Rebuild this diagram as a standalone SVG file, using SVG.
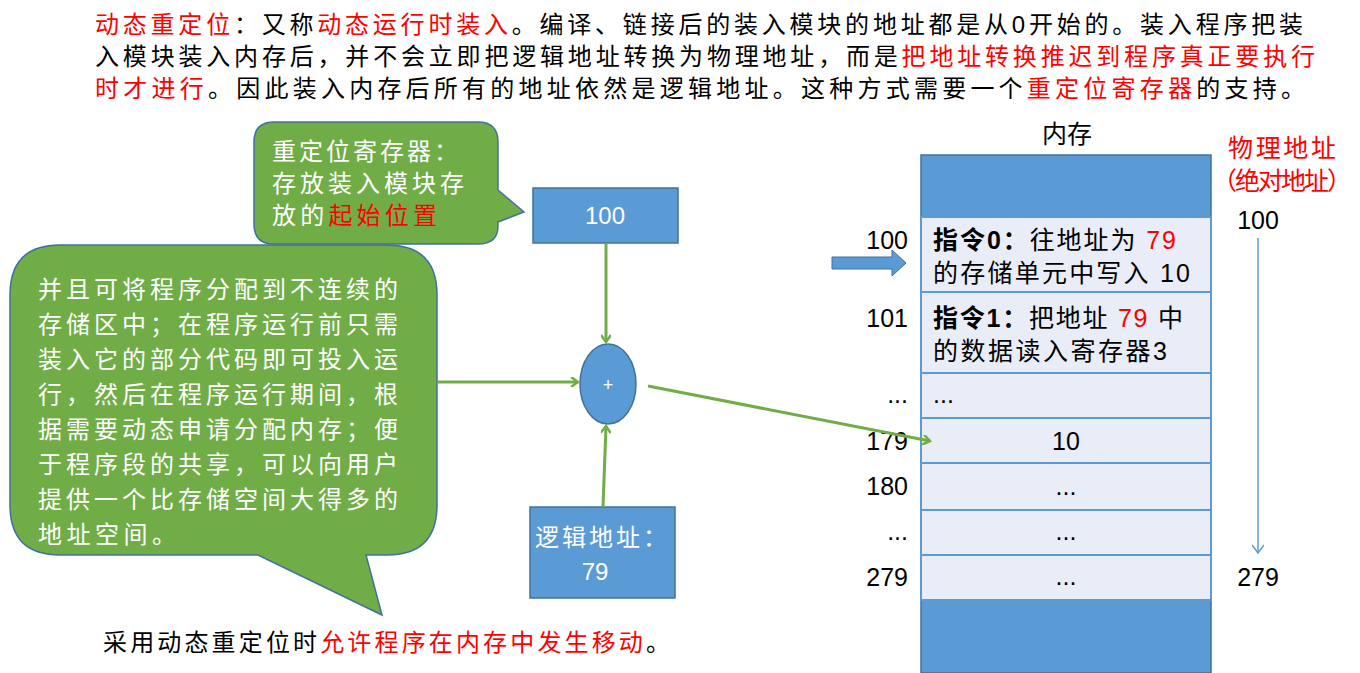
<svg xmlns="http://www.w3.org/2000/svg" width="1360" height="673" viewBox="0 0 1360 673">
<defs>
<style>
text{font-family:"Liberation Sans","Noto Sans CJK SC",sans-serif;fill:#000}
.t{font-size:24px}
.m{font-size:25px}
.r{fill:#ff0000}
.w{fill:#fff}
.bub{fill:#70ad47;stroke:#41719c;stroke-width:1.5}
.box{fill:#5b9bd5;stroke:#41719c;stroke-width:1.5}
.row{fill:#e9edf7;stroke:#5b9bd5;stroke-width:2}
.g{stroke:#70ad47;stroke-width:3;fill:none}
</style>
<marker id="ga" markerWidth="10" markerHeight="10" refX="8" refY="5" orient="auto" markerUnits="userSpaceOnUse"><path d="M1,0 L8,5 L1,10" fill="none" stroke="#70ad47" stroke-width="2.5"/></marker>
<marker id="ba" markerWidth="12" markerHeight="12" refX="9" refY="6" orient="auto" markerUnits="userSpaceOnUse"><path d="M1,0 L9,6 L1,12" fill="none" stroke="#5b9bd5" stroke-width="1.5"/></marker>
</defs>
<rect width="1360" height="673" fill="#fff"/>
<g id="title" class="t">
<text x="95" y="33" textLength="1208" lengthAdjust="spacing"><tspan class="r">动态重定位</tspan>：又称<tspan class="r">动态运行时装入</tspan>。编译、链接后的装入模块的地址都是从0开始的。装入程序把装</text>
<text x="95" y="65" textLength="1220" lengthAdjust="spacing">入模块装入内存后，并不会立即把逻辑地址转换为物理地址，而是<tspan class="r">把地址转换推迟到程序真正要执行</tspan></text>
<text x="95" y="97" textLength="1210" lengthAdjust="spacing"><tspan class="r">时才进行</tspan>。因此装入内存后所有的地址依然是逻辑地址。这种方式需要一个<tspan class="r">重定位寄存器</tspan>的支持。</text>
</g>
<g id="bubble-reg">
<path class="bub" d="M274,122 H478 Q498,122 498,142 V190 L524,212 L498,222 V226 Q498,244 478,244 H274 Q254,244 254,224 V142 Q254,122 274,122 Z"/>
<text class="t w" x="272" y="160" textLength="186" lengthAdjust="spacing">重定位寄存器：</text>
<text class="t w" x="272" y="192" textLength="192" lengthAdjust="spacing">存放装入模块存</text>
<text class="t w" x="272" y="224" textLength="165" lengthAdjust="spacing">放的<tspan class="r">起始位置</tspan></text>
</g>
<g id="bubble-main">
<path class="bub" d="M60,245 H387 Q437,245 437,295 V505 Q437,555 387,555 H366 L382,615 L258,555 H60 Q10,555 10,505 V295 Q10,245 60,245 Z"/>
<g class="t">
<text class="w" x="38" y="298" textLength="360" lengthAdjust="spacing">并且可将程序分配到不连续的</text>
<text class="w" x="38" y="333" textLength="360" lengthAdjust="spacing">存储区中；在程序运行前只需</text>
<text class="w" x="38" y="368" textLength="360" lengthAdjust="spacing">装入它的部分代码即可投入运</text>
<text class="w" x="38" y="403" textLength="360" lengthAdjust="spacing">行，然后在程序运行期间，根</text>
<text class="w" x="38" y="438" textLength="360" lengthAdjust="spacing">据需要动态申请分配内存；便</text>
<text class="w" x="38" y="473" textLength="360" lengthAdjust="spacing">于程序段的共享，可以向用户</text>
<text class="w" x="38" y="508" textLength="360" lengthAdjust="spacing">提供一个比存储空间大得多的</text>
<text class="w" x="38" y="543" textLength="138" lengthAdjust="spacing">地址空间。</text>
</g>
</g>
<g id="reg100"><rect class="box" x="533" y="188" width="145" height="55"/><text class="t w" x="605" y="224" text-anchor="middle">100</text></g>
<g id="adder"><ellipse class="box" cx="608" cy="384" rx="28" ry="40"/><text class="w" x="608" y="391" font-size="18" text-anchor="middle">+</text></g>
<g id="logical"><rect class="box" x="530" y="507" width="145" height="91"/><text class="t w" x="601" y="546" text-anchor="middle" textLength="132" lengthAdjust="spacing">逻辑地址：</text><text class="t w" x="595" y="580" text-anchor="middle">79</text></g>
<g id="memory">
<text class="m" x="1067" y="143" text-anchor="middle">内存</text>
<rect class="box" x="921" y="155" width="290" height="518"/>
<rect class="row" x="921" y="217" width="290" height="75"/>
<rect class="row" x="921" y="292" width="290" height="81"/>
<rect class="row" x="921" y="373" width="290" height="45"/>
<rect class="row" x="921" y="418" width="290" height="45"/>
<rect class="row" x="921" y="463" width="290" height="47"/>
<rect class="row" x="921" y="510" width="290" height="45"/>
<rect class="row" x="921" y="555" width="290" height="45"/>
<g class="m">
<text x="933" y="249" textLength="243" lengthAdjust="spacing"><tspan font-weight="bold">指令0：</tspan>往地址为 <tspan class="r">79</tspan></text>
<text x="933" y="282" textLength="257" lengthAdjust="spacing">的存储单元中写入 10</text>
<text x="933" y="327" textLength="250" lengthAdjust="spacing"><tspan font-weight="bold">指令1：</tspan>把地址 <tspan class="r">79</tspan> 中</text>
<text x="933" y="360" textLength="234" lengthAdjust="spacing">的数据读入寄存器3</text>
<text x="933" y="403">...</text>
<text x="1066" y="450" text-anchor="middle">10</text>
<text x="1066" y="495" text-anchor="middle">...</text>
<text x="1066" y="540" text-anchor="middle">...</text>
<text x="1066" y="585" text-anchor="middle">...</text>
<text x="908" y="249" text-anchor="end">100</text>
<text x="908" y="327" text-anchor="end">101</text>
<text x="908" y="403" text-anchor="end">...</text>
<text x="908" y="450" text-anchor="end">179</text>
<text x="908" y="495" text-anchor="end">180</text>
<text x="908" y="540" text-anchor="end">...</text>
<text x="908" y="586" text-anchor="end">279</text>
</g>
<path d="M832,257 H892 V250 L906,263 L892,276 V269 H832 Z" fill="#5b9bd5" stroke="#41719c"/>
</g>
<g id="physical" class="m">
<text class="r" x="1282" y="157" text-anchor="middle" textLength="108" lengthAdjust="spacing">物理地址</text>
<text class="r" x="1282" y="190" text-anchor="middle" textLength="140" lengthAdjust="spacing">（绝对地址）</text>
<text x="1258" y="229" text-anchor="middle">100</text>
<text x="1258" y="586" text-anchor="middle">279</text>
</g>
<g id="connectors">
<line class="g" x1="606" y1="243" x2="606" y2="342" marker-end="url(#ga)"/>
<line class="g" x1="603" y1="507" x2="606" y2="426" marker-end="url(#ga)"/>
<line class="g" x1="437" y1="382" x2="578" y2="382" marker-end="url(#ga)"/>
<line class="g" x1="648" y1="386" x2="930" y2="441" marker-end="url(#ga)"/>
<line x1="1258" y1="238" x2="1258" y2="553" stroke="#5b9bd5" stroke-width="1.5" marker-end="url(#ba)"/>
</g>
<text class="t" x="103" y="651" textLength="567" lengthAdjust="spacing">采用动态重定位时<tspan class="r">允许程序在内存中发生移动</tspan>。</text>
</svg>
